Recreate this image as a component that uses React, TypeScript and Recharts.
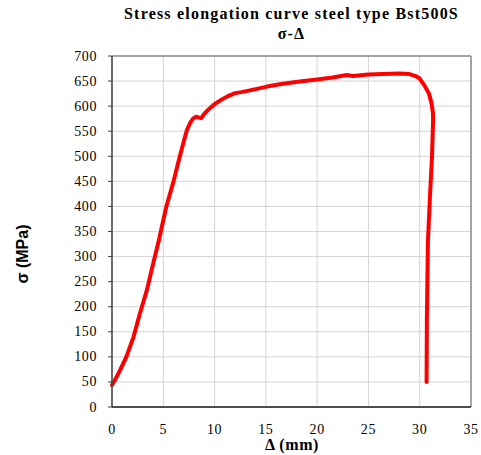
/**
 * Stress elongation curve for Bst500S steel, σ over Δ.
 */
import { LineChart, Line, XAxis, YAxis, CartesianGrid, ReferenceLine, Label } from "recharts";

const ELONGATION = [
  0, 0.4, 0.8, 1.4, 2.1, 2.7, 3.4, 4.0, 4.6, 5.3, 6.0, 6.6, 7.0, 7.3, 7.6, 7.9,
  8.2, 8.5, 8.7, 8.9, 9.2, 9.6, 10.0, 10.6, 11.2, 12.0, 12.6, 13.1, 14.0, 15.1,
  16.5, 18.3, 20.0, 21.5, 22.9, 23.5, 25.0, 26.4, 28.0, 29.0, 29.6, 30.0, 30.5,
  30.9, 31.15, 31.3, 31.3, 31.2, 31.0, 30.8, 30.7, 30.67,
];
const STRESS = [
  44, 58, 74, 100, 140, 185, 233, 285, 335, 400, 450, 499, 530, 552, 566, 575,
  579, 577, 576, 582, 589, 597, 604, 612, 619, 626, 628, 630, 634, 639,
  644, 649, 653, 657, 662, 660, 663, 664, 665, 664, 660, 655, 640,
  625, 606, 585, 570, 500, 420, 330, 180, 50,
];
const X_TICKS = [0, 5, 10, 15, 20, 25, 30, 35];
const Y_TICKS = [0, 50, 100, 150, 200, 250, 300, 350, 400, 450, 500, 550, 600, 650, 700];

const data = ELONGATION.map((x, i) => ({ x, y: STRESS[i] }));

const serif = '"Liberation Serif", "Times New Roman", serif';
const sans = '"Liberation Sans", Arial, sans-serif';

const tickStyle = { fontFamily: serif, fontSize: 14, letterSpacing: "0.6px" };

function XTick({ x, y, payload }: any) {
  return (
    <text x={x} y={y + 9} textAnchor="middle" dominantBaseline="hanging" fill="#000" style={tickStyle}>
      {payload.value}
    </text>
  );
}

function YTick({ x, y, payload }: any) {
  return (
    <text x={x - 9} y={y} textAnchor="end" dominantBaseline="central" fill="#000" style={tickStyle}>
      {payload.value}
    </text>
  );
}

export default function App() {
  return (
    <div style={{ position: "absolute", left: 0, top: 0, width: 481, height: 455, background: "#fff" }}>
      <div
        style={{
          position: "absolute", left: 112, width: 359, top: 4, textAlign: "center",
          fontFamily: serif, fontWeight: "bold", fontSize: 16, lineHeight: "20px",
          letterSpacing: "1.2px", color: "#000",
        }}
      >
        Stress elongation curve steel type Bst500S
        <br />
        σ-Δ
      </div>
      <LineChart width={481} height={455} data={data} margin={{ top: 56, right: 10, bottom: 18, left: 60 }}>
        <CartesianGrid stroke="#d4d4d4" strokeWidth={1} />
        <XAxis
          type="number"
          dataKey="x"
          domain={[0, 35]}
          ticks={X_TICKS}
          height={30}
          tickLine={false}
          axisLine={{ stroke: "#1a1a1a", strokeWidth: 1.5 }}
          tick={<XTick />}
        >
          <Label
            content={() => (
              <text x={292} y={446} textAnchor="middle" dominantBaseline="middle" fill="#000"
                style={{ fontFamily: serif, fontWeight: "bold", fontSize: 16, letterSpacing: "0.6px" }}>
                Δ (mm)
              </text>
            )}
          />
        </XAxis>
        <YAxis
          type="number"
          domain={[0, 700]}
          ticks={Y_TICKS}
          width={52}
          tickSize={4}
          tickLine={{ stroke: "#404040" }}
          axisLine={{ stroke: "#404040", strokeWidth: 1.5 }}
          tick={<YTick />}
        >
          <Label
            content={() => (
              <text x={24} y={254} transform="rotate(-90 24 254)" textAnchor="middle"
                dominantBaseline="middle" fill="#000"
                style={{ fontFamily: sans, fontWeight: "bold", fontSize: 16 }}>
                σ (MPa)
              </text>
            )}
          />
        </YAxis>
        <ReferenceLine y={700} stroke="#8c8c8c" strokeWidth={1.5} />
        <ReferenceLine x={35} stroke="#8c8c8c" strokeWidth={1.5} />
        <Line
          type="linear"
          dataKey="y"
          stroke="#ff0000"
          strokeWidth={4}
          strokeLinecap="round"
          strokeLinejoin="round"
          dot={false}
          activeDot={false}
          isAnimationActive={false}
        />
      </LineChart>
    </div>
  );
}
